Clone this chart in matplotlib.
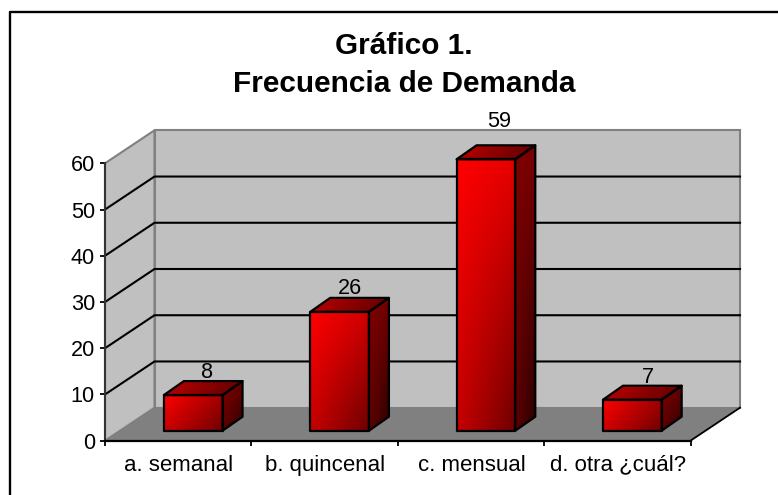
import matplotlib
matplotlib.use("Agg")
import numpy as np
import matplotlib.pyplot as plt
from matplotlib.patches import Polygon
from matplotlib.lines import Line2D
from matplotlib.colors import LinearSegmentedColormap

categories = ["a. semanal", "b. quincenal", "c. mensual", "d. otra ¿cuál?"]
values = [8, 26, 59, 7]
y_ticks = [0, 10, 20, 30, 40, 50, 60]
title = "Gráfico 1.\nFrecuencia de Demanda"
# label placement against the bar, pixels (59 sits higher in the original)
label_gaps = [3, 4, 18, 3]
label_shifts = [29, 25, 28, 31]

W, H = 778, 495
plt.rcParams['font.family'] = ['Liberation Sans', 'DejaVu Sans']

fig = plt.figure(figsize=(W / 100, H / 100), dpi=100)
fig.patch.set_facecolor("white")

# outer frame, only left and top edges are in the picture
fig.add_artist(Line2D([9.5 / W, 9.5 / W, 1], [0, 1 - 11.5 / H, 1 - 11.5 / H], transform=fig.transFigure,
                      color="black", lw=1.7))

# front plane of the plot, in pixels
left, right, top, bottom = 105, 690.5, 163.3, 440.7
ax = fig.add_axes([left / W, 1 - bottom / H, (right - left) / W, (bottom - top) / H])
ax.set_xlim(-0.5, 3.5)
ax.set_ylim(0, 60)
ax.patch.set_visible(False)
for s in ax.spines.values():
    s.set_visible(False)

px_x = 4 / (right - left)
px_y = 60 / (bottom - top)


# move a point back into the depth of the chart (offsets in pixels)
def back(x, y, dx, dy):
    return (x + dx * px_x, y + dy * px_y)


def poly(points, **kw):
    p = Polygon(points, clip_on=False, **kw)
    ax.add_patch(p)
    return p


# face filled with a gradient from top left to bottom right
def gradient(points, c_from, c_to, zorder):
    cmap = LinearSegmentedColormap.from_list("g", [c_from, c_to])
    xs = [p[0] for p in points]
    ys = [p[1] for p in points]
    w_px = (max(xs) - min(xs)) / px_x
    h_px = (max(ys) - min(ys)) / px_y
    u, v = np.meshgrid(np.linspace(0, 1, 80), np.linspace(0, 1, 80))
    wx = w_px / (w_px + h_px)
    wy = min(h_px / (w_px + h_px), 0.4)
    grad = wx * u + wy * (1 - v) + (1 - wx - wy) * u * (1 - v)
    im = ax.imshow(grad, extent=(min(xs), max(xs), min(ys), max(ys)), origin="lower", cmap=cmap,
                   aspect="auto", zorder=zorder, interpolation="bilinear")
    im.set_clip_box(fig.bbox)
    im.set_clip_path(Polygon(points, transform=ax.transData, fc="none", ec="none"))
    poly(points, fill=False, ec="black", lw=1.6, zorder=zorder + 0.1, joinstyle="round")


DX, DY = 49.5, 33
x0, x1 = -0.5, 3.5

# walls and floor
poly([(x0, 0), back(x0, 0, DX, DY), back(x1, 0, DX, DY), (x1, 0)], fc="#808080", ec="none", zorder=1)
poly([(x0, 0), (x0, 60), back(x0, 60, DX, DY), back(x0, 0, DX, DY)], fc="#c0c0c0", ec="#808080", lw=1.5, zorder=1)
poly([back(x0, 0, DX, DY), back(x0, 60, DX, DY), back(x1, 60, DX, DY), back(x1, 0, DX, DY)],
     fc="#c0c0c0", ec="#808080", lw=1.5, zorder=1)

# gridlines on the walls
for t in y_ticks[1:-1]:
    a = back(x0, t, 0, 0)
    b = back(x0, t, DX, DY)
    c = back(x1, t, DX, DY)
    ax.plot([a[0], b[0], c[0]], [a[1], b[1], c[1]], color="black", lw=1.5, clip_on=False, zorder=2)

# axes lines
ax.plot([x0, x0], [0, 60], color="#333333", lw=1.5, clip_on=False, zorder=2)
ax.plot([x0, x1], [0, 0], color="black", lw=1.6, clip_on=False, zorder=2)
ax.plot([x1, back(x1, 0, DX, DY)[0]], [0, back(x1, 0, DX, DY)[1]], color="black", lw=1.3, clip_on=False, zorder=2)

# bars
bar_w = 58.7 * px_x
for i, v in enumerate(values):
    xl = i - bar_w / 2 + 15 * px_x
    xr = i + bar_w / 2 + 15 * px_x
    base = 10 * px_y
    top_y = base + v - 0.3
    z = 3 + i
    gradient([(xl, base), (xl, top_y), (xr, top_y), (xr, base)], "#ff0000", "#6e0000", z)
    gradient([(xr, base), (xr, top_y), back(xr, top_y, 20, 14), back(xr, base, 20, 14)],
             "#800000", "#2a0000", z)
    gradient([(xl, top_y), back(xl, top_y, 20, 14), back(xr, top_y, 20, 14), (xr, top_y)],
             "#c00000", "#5a0000", z)
    ax.text(i + label_shifts[i] * px_x, top_y + (14 + label_gaps[i]) * px_y, str(v), ha="center", va="baseline",
            fontsize=15.6, color="black", zorder=10)

ax.set_xticks(np.arange(len(categories) + 1) - 0.5)
ax.set_xticklabels([])
ax.set_yticks(y_ticks)
ax.set_yticklabels([str(t) for t in y_ticks], fontsize=15.6)
ax.tick_params(axis="y", length=3.6, width=1.3, pad=3.6)
ax.tick_params(axis="x", length=3.6, width=1.3, pad=2)
for i, c in enumerate(categories):
    ax.text(i + 0.005, -3.0, c, ha="center", va="top", fontsize=16, color="black")

ax.set_xlim(x0, x1)
ax.set_ylim(0, 60)

fig.text(404 / W, 1 - 65 / H, title, ha="center", va="center", fontsize=21.4, fontweight="bold",
         linespacing=1.44, color="black")

fig.savefig("out.png", dpi=100)
